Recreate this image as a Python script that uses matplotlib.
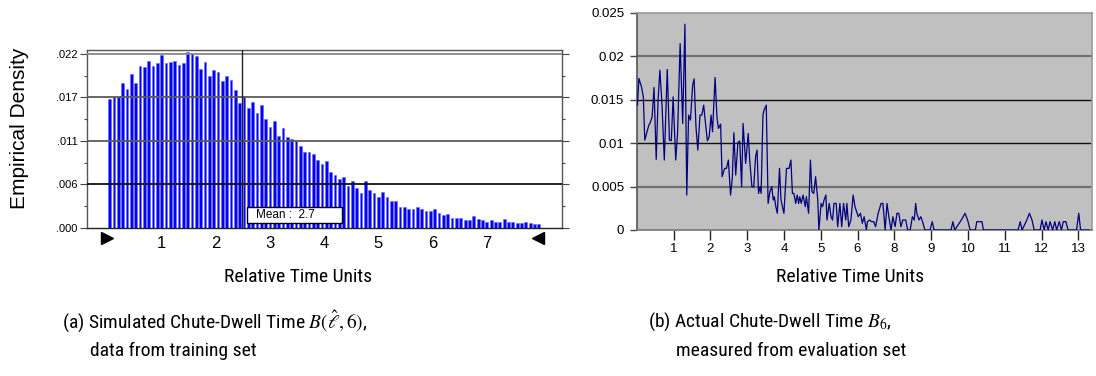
import matplotlib
matplotlib.use("Agg")
import matplotlib.pyplot as plt
import numpy as np
from matplotlib import font_manager
from matplotlib.patches import Rectangle

# ---------------- data ----------------
# (a) simulated chute-dwell time histogram: bin width 0.08 starting at 0
bin_width = 0.08
sim_density = [
    0.01623, 0.01648, 0.01648, 0.01833, 0.01753, 0.01947, 0.01833, 0.02044, 0.02027, 0.02107,
    0.02044, 0.02078, 0.02187, 0.02078, 0.02095, 0.02112, 0.02061, 0.02078, 0.02221, 0.02204,
    0.02175, 0.02010, 0.02090, 0.01918, 0.01998, 0.01964, 0.01850, 0.01918, 0.01867, 0.01736,
    0.01572, 0.01669, 0.01521, 0.01589, 0.01446, 0.01559, 0.01374, 0.01281, 0.01349, 0.01167,
    0.01264, 0.01151, 0.01125, 0.01096, 0.01041, 0.00957, 0.00957, 0.00931, 0.00864, 0.00813,
    0.00843, 0.00712, 0.00666, 0.00620, 0.00649, 0.00535, 0.00594, 0.00502, 0.00438, 0.00594,
    0.00485, 0.00438, 0.00388, 0.00451, 0.00388, 0.00341, 0.00341, 0.00261, 0.00261, 0.00240,
    0.00240, 0.00261, 0.00240, 0.00211, 0.00211, 0.00240, 0.00194, 0.00164, 0.00181, 0.00131,
    0.00131, 0.00131, 0.00097, 0.00097, 0.00148, 0.00114, 0.00097, 0.00080, 0.00097, 0.00080,
    0.00080, 0.00114, 0.00080, 0.00080, 0.00063, 0.00063, 0.00080, 0.00063, 0.00055, 0.00055,
]
sim_mean_line = 2.48
sim_mean_label = "Mean :  2.7"
left_yticks = [0.0, 0.0055, 0.011, 0.0165, 0.022]
left_yticklabels = [".000", ".006", ".011", ".017", ".022"]
left_xticks = [1, 2, 3, 4, 5, 6, 7]
range_markers = [0.0, 7.95]

# (b) measured chute-dwell time: category position vs density
act_pos = [
    0.02, 0.06, 0.13, 0.18, 0.22, 0.27, 0.33, 0.36, 0.42, 0.47, 0.53, 0.58, 0.63, 0.69, 0.75,
    0.79, 0.83, 0.89, 0.94, 0.99, 1.06, 1.11, 1.18, 1.25, 1.31, 1.36, 1.41, 1.46, 1.52, 1.56,
    1.61, 1.66, 1.72, 1.77, 1.82, 1.86, 1.92, 1.97, 2.02, 2.06, 2.13, 2.18, 2.22, 2.28, 2.32,
    2.39, 2.44, 2.49, 2.55, 2.60, 2.64, 2.69, 2.75, 2.80, 2.85, 2.89, 2.96, 3.03, 3.07, 3.13,
    3.18, 3.23, 3.27, 3.31, 3.35, 3.38, 3.43, 3.46, 3.52, 3.57, 3.62, 3.67, 3.71, 3.74, 3.78,
    3.82, 3.88, 3.92, 3.96, 4.00, 4.07, 4.10, 4.14, 4.19, 4.23, 4.27, 4.32, 4.36, 4.40, 4.43,
    4.47, 4.52, 4.58, 4.61, 4.67, 4.72, 4.76, 4.81, 4.86, 4.92, 4.95, 5.01, 5.05, 5.09, 5.14,
    5.17, 5.23, 5.28, 5.32, 5.36, 5.42, 5.46, 5.52, 5.57, 5.62, 5.68, 5.71, 5.76, 5.82, 5.88,
    5.93, 5.99, 6.02, 6.08, 6.13, 6.18, 6.24, 6.27, 6.33, 6.38, 6.44, 6.49, 6.56, 6.64, 6.69,
    6.75, 6.80, 6.85, 6.91, 6.96, 7.02, 7.07, 7.12, 7.18, 7.23, 7.31, 7.36, 7.43, 7.49, 7.54,
    7.58, 7.61, 7.67, 7.72, 7.78, 7.83, 7.97, 8.03, 8.08, 8.54, 8.59, 8.64, 8.82, 8.92, 8.99,
    9.06, 9.20, 9.24, 9.38, 9.42, 10.36, 10.42, 10.47, 10.60, 10.67, 10.74, 10.80, 10.96, 11.01,
    11.07, 11.12, 11.18, 11.23, 11.30, 11.36, 11.41, 11.48, 11.54, 11.59, 11.66, 11.72, 11.95,
    12.01, 12.06, 12.30,
]
act_density = [
    0.01437, 0.01743, 0.01647, 0.01532, 0.01034, 0.01111, 0.01207, 0.01226, 0.01303, 0.01640,
    0.00812, 0.01494, 0.01839, 0.01417, 0.00805, 0.01341, 0.01847, 0.01034, 0.01027, 0.01532,
    0.00805, 0.01111, 0.02145, 0.01226, 0.02368, 0.00402, 0.01322, 0.01264, 0.01666, 0.01739,
    0.01188, 0.00919, 0.01322, 0.01322, 0.01437, 0.01264, 0.01027, 0.01073, 0.01322, 0.01130,
    0.01755, 0.01303, 0.01168, 0.01218, 0.00613, 0.00709, 0.00709, 0.00805, 0.00402, 0.00613,
    0.01119, 0.00632, 0.01008, 0.01023, 0.00498, 0.01226, 0.00766, 0.01111, 0.00805, 0.00498,
    0.00498, 0.00843, 0.00919, 0.00421, 0.00498, 0.00421, 0.01322, 0.01379, 0.01437, 0.00306,
    0.00441, 0.00498, 0.00345, 0.00383, 0.00268, 0.00192, 0.00709, 0.00345, 0.00268, 0.00192,
    0.00709, 0.00709, 0.00709, 0.00805, 0.00421, 0.00421, 0.00306, 0.00402, 0.00306, 0.00383,
    0.00306, 0.00402, 0.00268, 0.00383, 0.00192, 0.00805, 0.00441, 0.00421, 0.00613, 0.00345,
    0.0, 0.00306, 0.00268, 0.00345, 0.00402, 0.00115, 0.00306, 0.00153, 0.00115, 0.00306,
    0.00306, 0.00038, 0.00306, 0.00038, 0.00306, 0.00115, 0.00306, 0.00038, 0.00115, 0.00402,
    0.00268, 0.00192, 0.00153, 0.00192, 0.00077, 0.00153, 0.0, 0.00096, 0.00115, 0.00096,
    0.00096, 0.00038, 0.00192, 0.00306, 0.00306, 0.0, 0.00306, 0.00153, 0.0, 0.00153,
    0.00038, 0.00192, 0.00192, 0.00038, 0.00115, 0.00115, 0.0, 0.0, 0.00153, 0.00115,
    0.00306, 0.00192, 0.00115, 0.00153, 0.00077, 0.0, 0.0, 0.00096, 0.0, 0.0,
    0.00096, 0.0, 0.00115, 0.00192, 0.00115, 0.0, 0.0, 0.00096, 0.00096, 0.0,
    0.0, 0.00096, 0.0, 0.00115, 0.00192, 0.00115, 0.0, 0.0, 0.00115,
    0.0, 0.00096, 0.0, 0.00096, 0.0, 0.00096, 0.0, 0.00096, 0.0, 0.00096, 0.00096, 0.0, 0.0,
    0.00192, 0.0, 0.0,
]
right_xticks = [1, 2, 3, 4, 5, 6, 7, 8, 9, 10, 11, 12]
right_xticklabels = ["1", "2", "3", "4", "5", "6", "8", "9", "10", "11", "12", "13"]
right_yticks = [0, 0.005, 0.01, 0.015, 0.02, 0.025]
right_yticklabels = ["0", "0.005", "0.01", "0.015", "0.02", "0.025"]

# ---------------- style ----------------
names = {f.name for f in font_manager.fontManager.ttflist}
sans = "Liberation Sans" if "Liberation Sans" in names else "DejaVu Sans"
plt.rcParams["font.family"] = [sans, "DejaVu Sans"]
plt.rcParams["mathtext.fontset"] = "stix"

narrow = None
for cand in ["Liberation Sans Narrow", "Arial Narrow", "Roboto Condensed",
             "Open Sans Condensed", "Noto Sans Condensed"]:
    if cand in names:
        narrow = cand
        break
if narrow is not None:
    CAP = dict(family=[narrow, "DejaVu Sans"], fontsize=14)
else:
    CAP = dict(family=[sans, "DejaVu Sans"], fontsize=11.5)

W, H = 1096, 376
fig = plt.figure(figsize=(W / 100, H / 100), dpi=100)

def rect(x0, y0, x1, y1):
    return [x0 / W, 1 - y1 / H, (x1 - x0) / W, (y1 - y0) / H]

# ---------------- (a) ----------------
ax1 = fig.add_axes(rect(87, 50, 562, 228))
centers = bin_width / 2 + bin_width * np.arange(len(sim_density))
ax1.bar(centers, sim_density, width=bin_width * 0.68, color="#0000FF",
        edgecolor="#6A6AFF", linewidth=0.4, zorder=2)
ax1.set_xlim(-0.378, 8.39)
ax1.set_ylim(0, 0.02247)
grid_cols = ["#888888", "#5a5a5a", "#5a5a5a", "#111111"]
for yv, c in zip(left_yticks[::-1][:-1], grid_cols):
    ax1.axhline(yv, color=c, lw=1.3, zorder=3)
ax1.axvline(sim_mean_line, color="#222222", lw=1.0, zorder=4)
ax1.add_patch(Rectangle((2.57, 0.00063), 1.75, 0.00203, fc="white", ec="black",
                        lw=1.0, zorder=5))
ax1.text(2.75, 0.00164, sim_mean_label, fontsize=8.5, va="center", ha="left", zorder=6)
ax1.set_yticks(left_yticks)
ax1.set_yticklabels(left_yticklabels, fontsize=8)
ax1.set_yticks(np.arange(0.00275, 0.0225, 0.0055), minor=True)
ax1.tick_params(axis="y", which="both", left=True, right=True, direction="out",
                colors="#444444", labelcolor="black", width=0.8)
ax1.tick_params(axis="y", which="major", length=5, pad=2)
ax1.tick_params(axis="y", which="minor", length=2.5)
ax1.set_xticks(left_xticks)
ax1.set_xticklabels([str(v) for v in left_xticks], fontsize=12)
ax1.tick_params(axis="x", length=0, pad=6)
for s in ax1.spines.values():
    s.set_color("#555555")
    s.set_linewidth(1.0)
ax1.spines["bottom"].set_color("#222222")
tr = ax1.get_xaxis_transform()
ax1.plot([range_markers[0]], [-0.055], marker=">", color="black", ms=8,
         transform=tr, clip_on=False, ls="none")
ax1.plot([range_markers[1]], [-0.055], marker="<", color="black", ms=8,
         transform=tr, clip_on=False, ls="none")

fig.text(20 / W, 1 - 128 / H, "Empirical Density", rotation=90, fontsize=15,
         ha="center", va="center")
fig.text(298 / W, 1 - 277 / H, "Relative Time Units", ha="center", va="center", **CAP)
fig.text(62 / W, 1 - 322 / H, r"(a) Simulated Chute-Dwell Time $B(\hat{\ell},6)$,",
         ha="left", va="center", **CAP)
fig.text(90 / W, 1 - 351 / H, "data from training set", ha="left", va="center", **CAP)

# ---------------- (b) ----------------
ax2 = fig.add_axes(rect(636.7, 12.7, 1092, 230))
ax2.set_facecolor("#C0C0C0")
ax2.plot(act_pos, act_density, color="#000080", lw=0.9, zorder=3)
ax2.set_xlim(0, 12.37)
ax2.set_ylim(0, 0.025)
gcols = {0.005: ("#707070", 1.6), 0.01: ("#111111", 1.0),
         0.015: ("#111111", 1.0), 0.02: ("#707070", 1.6)}
for yv, (c, lw) in gcols.items():
    ax2.axhline(yv, color=c, lw=lw, zorder=2)
ax2.set_yticks(right_yticks)
ax2.set_yticklabels(right_yticklabels, fontsize=9.5)
ax2.set_xticks(right_xticks)
ax2.set_xticklabels(right_xticklabels, fontsize=9.5)
ax2.tick_params(axis="y", direction="out", length=5, width=1, colors="#444444",
                labelcolor="black", pad=4)
ax2.tick_params(axis="x", direction="out", length=7, width=1, colors="#222222",
                labelcolor="black", pad=2)
ax2.spines["left"].set_color("#555555")
ax2.spines["bottom"].set_color("#777777")
ax2.spines["top"].set_color("#999999")
ax2.spines["right"].set_color("#999999")
for s in ax2.spines.values():
    s.set_linewidth(1.2)

fig.text(850 / W, 1 - 277 / H, "Relative Time Units", ha="center", va="center", **CAP)
fig.text(648 / W, 1 - 322 / H, r"(b) Actual Chute-Dwell Time $B_6$,",
         ha="left", va="center", **CAP)
fig.text(676 / W, 1 - 351 / H, "measured from evaluation set", ha="left", va="center",
         **CAP)

fig.savefig("out.png", dpi=100)
